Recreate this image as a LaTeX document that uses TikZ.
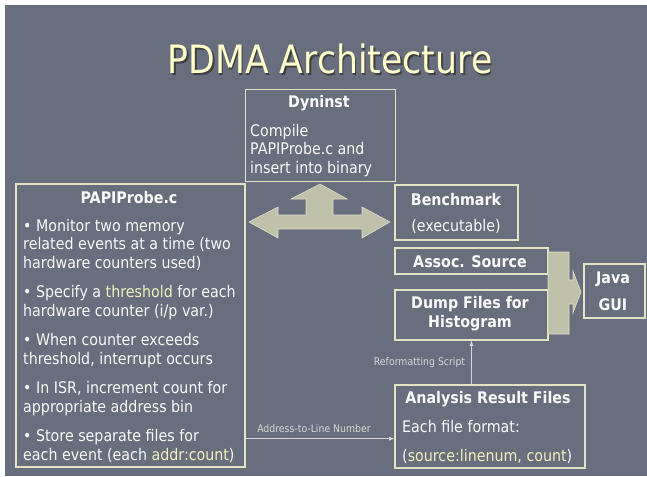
\documentclass[tikz,border=0pt]{standalone}
\usepackage{fontspec}
\setmainfont{DejaVu Sans}[FakeStretch=0.89]
\usetikzlibrary{arrows}

\definecolor{slide}{RGB}{104,110,125}
\definecolor{edge}{RGB}{226,226,196}
\definecolor{ink}{RGB}{250,250,250}
\definecolor{hilite}{RGB}{240,240,188}
\definecolor{titleink}{RGB}{255,255,204}
\definecolor{notegrey}{RGB}{215,215,215}
\definecolor{fatfill}{RGB}{192,193,170}
\definecolor{fatline}{RGB}{222,222,200}

\tikzset{
	box/.style={draw=edge, line width=1.2pt, inner sep=0pt},
	txt/.style={text=ink, inner sep=0pt, font=\fontsize{16}{18.6}\selectfont},
	head/.style={text=ink, inner sep=0pt, font=\fontsize{16}{19}\selectfont\bfseries},
	link/.style={draw=notegrey, line width=0.8pt, -latex},
	tag/.style={text=notegrey, inner sep=0pt, font=\fontsize{10.5}{12}\selectfont},
	fat/.style={fill=fatfill, draw=fatline, line width=0.6pt}
}

\begin{document}
\begin{tikzpicture}[x=1pt,y=-1pt]
		\useasboundingbox (0,0) rectangle (647,476);
		\fill[white] (0,0) rectangle (647,476);
		\fill[slide] (5,5) rectangle (647,476);
%		\draw[help lines,step=20] (0,0) grid (647,476);
		\path (330,74) coordinate (title);
		\path (0,438.7) coordinate (addr);

		\node[text=black!75, anchor=base, font=\fontsize{39}{41}\selectfont] (title_shadow) at ([shift={(1.6,1.6)}]title) {PDMA Architecture};
		\node[text=titleink, anchor=base, font=\fontsize{39}{41}\selectfont] (title_text) at (title) {PDMA Architecture};

		% boxes
		\node[box, minimum width=150pt, minimum height=92pt] (dyninst) at (320.5,135.5) {};
		\node[box, minimum width=229pt, minimum height=283pt] (probe) at (130.5,325.5) {};
		\node[box, minimum width=123pt, minimum height=55pt] (bench) at (456.5,212.5) {};
		\node[box, minimum width=153pt, minimum height=26pt] (assoc) at (471.5,261) {};
		\node[box, minimum width=153pt, minimum height=50pt] (dump) at (471.5,315) {};
		\node[box, minimum width=61pt, minimum height=54pt] (gui) at (614.5,291) {};
		\node[box, minimum width=190pt, minimum height=83pt] (result) at (490,426.5) {};

		% texts (base = last line)
		\node[head, anchor=base] (dyninst_head) at (319,108) {Dyninst};
		\node[txt, anchor=base west, align=left] (dyninst_text) at (250,173.5)
			{Compile\\PAPIProbe.c and\\insert into binary};
		\node[head, anchor=base] (probe_head) at (129,203) {PAPIProbe.c};
		\node[txt, anchor=base west, align=left] (probe_text) at (23,460.5)
			{\textbullet\ Monitor two memory\\related events at a time (two\\hardware counters used)\\[10.8pt]
			\textbullet\ Specify a {\color{hilite}threshold} for each\\hardware counter (i/p var.)\\[10.8pt]
			\textbullet\ When counter exceeds\\threshold, interrupt occurs\\[10.8pt]
			\textbullet\ In ISR, increment count for\\appropriate address bin\\[10.8pt]
			\textbullet\ Store separate files for\\each event (each {\color{hilite}addr:count})};
		\node[head, anchor=base] (bench_head) at (456,205) {Benchmark};
		\node[txt, anchor=base] (bench_text) at (456,231) {(executable)};
		\node[head, anchor=base] (assoc_text) at (470,267) {Assoc. Source};
		\node[head, anchor=base, align=center] (dump_text) at (470,327.5) {Dump Files for\\Histogram};
		\node[head, anchor=base, align=center] (gui_text) at (613,310.5) {Java\\[8pt]GUI};
		\node[head, anchor=base] (result_head) at (488,403) {Analysis Result Files};
		\node[txt, anchor=base west] (result_text1) at (402,432) {Each file format:};
		\node[txt, anchor=base west] (result_text2) at (402,461) {({\color{hilite}source:linenum, count})};

		% block arrows
		\draw[fat] (320,184) -- (347,199) -- (333,199) -- (333,215) -- (362,215) -- (362,207)
			-- (390,222) -- (362,238) -- (362,229) -- (278,229) -- (278,238) -- (249,222)
			-- (278,207) -- (278,215) -- (306,215) -- (306,199) -- (291,199) -- cycle;
		\draw[fat] (548,252) -- (569,252) -- (569,280) -- (573,280) -- (573,271) -- (581,292)
			-- (573,313) -- (573,304) -- (569,304) -- (569,334) -- (548,334) -- cycle;

		% connectors
		\draw[link] (probe.east |- addr) -- (result.west |- addr)
			node[tag, midway, above=6pt, xshift=-6pt] (addr_label) {Address-to-Line Number};
		\draw[link] (result.north -| dump.south) -- (dump.south)
			node[tag, midway, left=6pt] (script_label) {Reformatting Script};
\end{tikzpicture}
\end{document}
